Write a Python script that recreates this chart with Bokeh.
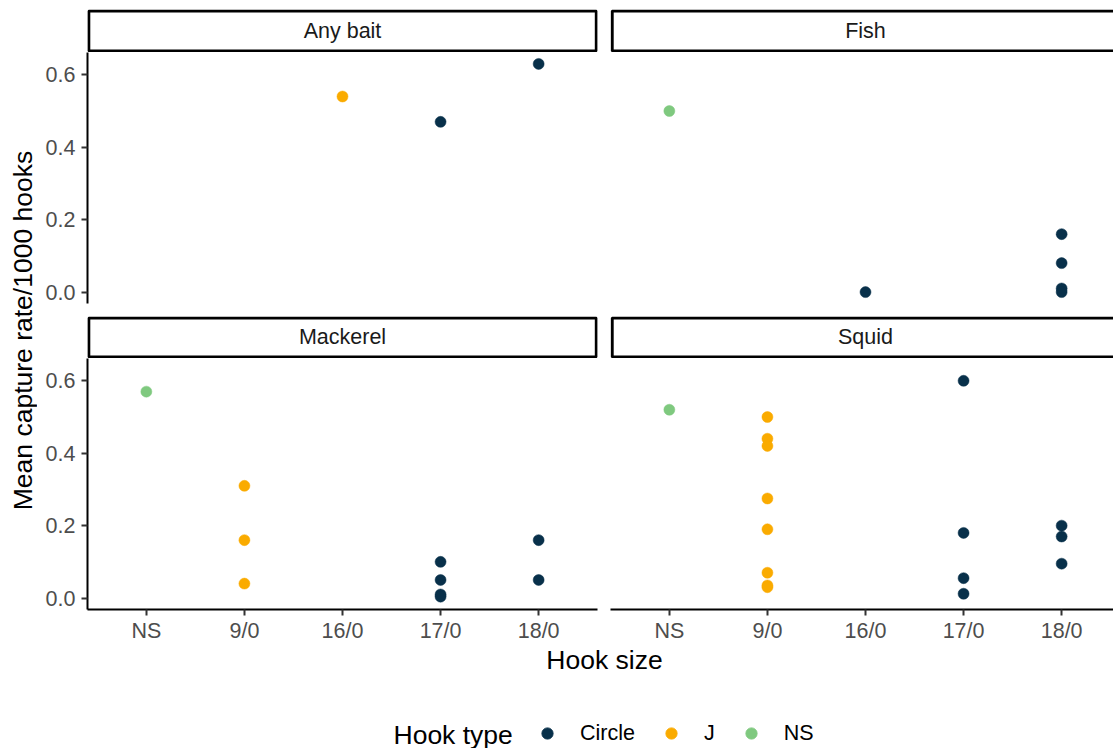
import math
from bokeh.plotting import figure
from bokeh.layouts import row, column
from bokeh.models import Range1d, FixedTicker, Legend, LegendItem, ColumnDataSource
from bokeh.embed import file_html
from bokeh.resources import INLINE
from bokeh.core.properties import value

# ---------------- data ----------------
hook_sizes = ["NS", "9/0", "16/0", "17/0", "18/0"]
hook_types = ["Circle", "J", "NS"]
type_colors = ["#08304A", "#FAAB00", "#7FC97F"]
baits = ["Any bait", "Fish", "Mackerel", "Squid"]
y_ticks = [0.0, 0.2, 0.4, 0.6]

any_size = ["16/0", "17/0", "18/0"]
any_type = ["J", "Circle", "Circle"]
any_rate = [0.54, 0.47, 0.63]

fish_size = ["NS", "16/0", "18/0", "18/0", "18/0", "18/0"]
fish_type = ["NS", "Circle", "Circle", "Circle", "Circle", "Circle"]
fish_rate = [0.50, 0.0, 0.16, 0.08, 0.01, 0.0]

mack_size = ["NS", "9/0", "9/0", "9/0", "17/0", "17/0", "17/0", "17/0", "18/0", "18/0"]
mack_type = ["NS", "J", "J", "J", "Circle", "Circle", "Circle", "Circle", "Circle", "Circle"]
mack_rate = [0.57, 0.31, 0.16, 0.04, 0.10, 0.05, 0.01, 0.004, 0.16, 0.05]

squid_size = ["NS", "9/0", "9/0", "9/0", "9/0", "9/0", "9/0", "9/0", "9/0",
              "17/0", "17/0", "17/0", "17/0", "18/0", "18/0", "18/0"]
squid_type = ["NS", "J", "J", "J", "J", "J", "J", "J", "J",
              "Circle", "Circle", "Circle", "Circle", "Circle", "Circle", "Circle"]
squid_rate = [0.52, 0.50, 0.44, 0.42, 0.275, 0.19, 0.07, 0.035, 0.03,
              0.60, 0.18, 0.055, 0.012, 0.20, 0.17, 0.095]

panels = [
    (any_size, any_type, any_rate),
    (fish_size, fish_type, fish_rate),
    (mack_size, mack_type, mack_rate),
    (squid_size, squid_type, squid_rate),
]

# ---------------- style / layout ----------------
FONT = "Liberation Sans"
TICK_FS = "21.5px"
TITLE_FS = "26.5px"
PT_SIZE = 11

YLAB_W = 37
L_BORDER = 50
L_FRAME = 510
L_RIGHT = 6
R_BORDER = 7
R_FRAME = 503
FRAME_H = 251
X_PAD = 0.6
UNIT_PX = L_FRAME / (len(hook_sizes) - 1 + 2 * X_PAD)
L_CELL = L_BORDER + L_FRAME + L_RIGHT
R_CELL = R_BORDER + R_FRAME
L_X0 = YLAB_W + L_BORDER              # page x of left frames
R_X0 = YLAB_W + L_CELL + R_BORDER     # page x of right frames

y_lo = -0.0315
y_hi = 0.6615


def style_common(p):
    p.outline_line_color = None
    p.grid.visible = False
    p.background_fill_color = "white"
    p.border_fill_color = "white"


def style_axis(ax, standoff):
    ax.axis_line_color = "black"
    ax.axis_line_width = 2
    ax.major_tick_line_color = "#333333"
    ax.major_tick_line_width = 2
    ax.major_tick_out = 6
    ax.major_tick_in = 0
    ax.minor_tick_line_color = None
    ax.major_label_text_font = FONT
    ax.major_label_text_font_size = TICK_FS
    ax.major_label_text_color = "#4D4D4D"
    ax.major_label_standoff = standoff


def make_strip(label, left_side, top_row):
    # strip frame uses page-pixel coordinates (y measured from the top)
    fw = L_FRAME if left_side else R_FRAME
    x0 = L_X0 if left_side else R_X0
    y0, y1 = (9, 52) if top_row else (316, 358)
    s = figure(frame_width=fw, frame_height=y1 - y0,
               x_range=Range1d(x0, x0 + fw), y_range=Range1d(y1, y0),
               x_axis_location=None, y_axis_location=None,
               min_border_left=L_BORDER if left_side else R_BORDER,
               min_border_right=L_RIGHT if left_side else 0,
               min_border_top=y0 if top_row else 0, min_border_bottom=0,
               output_backend="svg", toolbar_location=None)
    style_common(s)
    if left_side:
        bl, br = x0 + 1.3, x0 + L_FRAME - 1.2
    else:
        bl, br = x0 + 1.7, x0 + L_FRAME + 10
    bt, bb = y0 + 1.5, y1 - 1.6
    s.quad(left=[bl], right=[br], top=[bt], bottom=[bb], fill_color="white",
           line_color="black", line_width=3)
    s.text(x=[x0 + L_FRAME / 2], y=[(bt + bb) / 2], text=[label], text_align="center",
           text_baseline="middle", text_font=value(FONT), text_font_size=TICK_FS,
           text_color="#1A1A1A")
    return s


def make_panel(idx, left_side, bottom_row):
    sizes, types, rates = panels[idx]
    fw = L_FRAME if left_side else R_FRAME
    x_end = 1 - X_PAD + fw / UNIT_PX
    p = figure(frame_width=fw, frame_height=FRAME_H,
               x_range=Range1d(1 - X_PAD, x_end), y_range=Range1d(y_lo, y_hi),
               x_axis_location="below" if bottom_row else None,
               y_axis_location="left" if left_side else None,
               min_border_left=L_BORDER if left_side else R_BORDER,
               min_border_right=L_RIGHT if left_side else 0,
               min_border_top=0, min_border_bottom=36 if bottom_row else 13,
               output_backend="svg", toolbar_location=None)
    style_common(p)
    xs = [hook_sizes.index(s) + 1 for s in sizes]
    cols = [type_colors[hook_types.index(t)] for t in types]
    src = ColumnDataSource(dict(x=xs, y=rates, c=cols))
    p.scatter("x", "y", source=src, size=PT_SIZE, fill_color="c", line_color="c", line_width=0.5)
    if bottom_row:
        ax = p.xaxis[0]
        ax.ticker = FixedTicker(ticks=list(range(1, len(hook_sizes) + 1)))
        ax.major_label_overrides = {i + 1: s for i, s in enumerate(hook_sizes)}
        style_axis(ax, 3)
    if left_side:
        ay = p.yaxis[0]
        ay.ticker = FixedTicker(ticks=y_ticks)
        ay.major_label_overrides = {t: f"{t:.1f}" for t in y_ticks}
        style_axis(ay, 6)
    return p


left_col = column(make_strip(baits[0], True, True), make_panel(0, True, False),
                  make_strip(baits[2], True, False), make_panel(2, True, True))
right_col = column(make_strip(baits[1], False, True), make_panel(1, False, False),
                   make_strip(baits[3], False, False), make_panel(3, False, True))

GRID_H = 52 + 264 + 42 + 287
TOTAL_W = YLAB_W + L_CELL + R_CELL

# y axis title (figure coords = page pixels)
ylab = figure(width=YLAB_W, height=GRID_H, x_range=Range1d(0, YLAB_W), y_range=Range1d(GRID_H, 0),
              x_axis_location=None, y_axis_location=None, min_border=0,
              output_backend="svg", toolbar_location=None)
style_common(ylab)
ylab.text(x=[22], y=[330], text=["Mean capture rate/1000 hooks"], angle=math.pi / 2,
          text_align="center", text_baseline="middle",
          text_font=value(FONT), text_font_size=TITLE_FS, text_color="black")

# x axis title
xt = figure(width=TOTAL_W, height=40, x_range=Range1d(0, TOTAL_W), y_range=Range1d(685, 645),
            x_axis_location=None, y_axis_location=None, min_border=0,
            output_backend="svg", toolbar_location=None)
style_common(xt)
xt.text(x=[604], y=[659], text=["Hook size"], text_align="center", text_baseline="middle",
        text_font=value(FONT), text_font_size=TITLE_FS, text_color="black")

# legend
lg = figure(width=TOTAL_W, height=63, x_range=Range1d(0, TOTAL_W), y_range=Range1d(748, 685),
            x_axis_location=None, y_axis_location=None, min_border=0,
            output_backend="svg", toolbar_location=None)
style_common(lg)
lg.text(x=[393], y=[734], text=["Hook type"], text_align="left", text_baseline="middle",
        text_font=value(FONT), text_font_size=TITLE_FS, text_color="black")
items = []
for name, col in zip(hook_types, type_colors):
    # key-only renderer: a single NaN point, so nothing shows in the plot area
    r = lg.scatter(x=[float("nan")], y=[float("nan")], size=PT_SIZE, fill_color=col, line_color=col)
    items.append(LegendItem(label=name, renderers=[r]))
legend = Legend(items=items, orientation="horizontal", location=(533, 1),
                glyph_width=28, glyph_height=28, label_standoff=19, spacing=22,
                label_width=0, label_height=28, padding=0, margin=0,
                border_line_color=None, background_fill_alpha=0,
                label_text_font=FONT, label_text_font_size=TICK_FS, label_text_color="black")
lg.add_layout(legend)

layout = column(row(ylab, left_col, right_col), xt, lg)

open("out.html", "w").write(file_html(layout, INLINE))
